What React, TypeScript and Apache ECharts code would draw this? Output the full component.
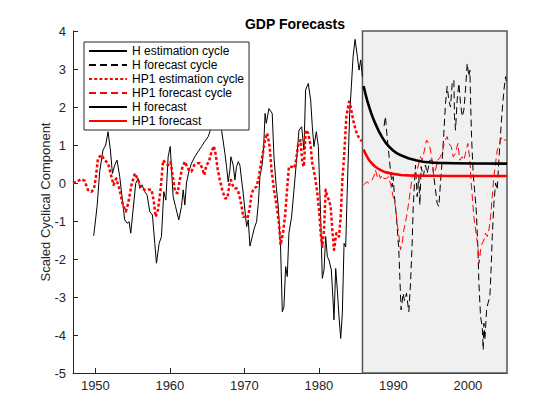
import React, { useEffect, useRef } from "react";
import * as echarts from "echarts";

// ---- Data (year, scaled cyclical component) ----
const xTickYears = [1950, 1960, 1970, 1980, 1990, 2000];
const forecastStart = 1985.85;
const forecastEnd = 2005.25;

const hEstimationCycle: [number, number][] = [
  [1949.78, -1.39], [1950.23, -0.62], [1950.58, 0.3], [1951.03, 0.87], [1951.39, 1.0], [1951.7, 1.35],
  [1952.02, 0.87], [1952.29, 0.25], [1952.6, 0.47], [1952.91, 0.6], [1953.27, 0.17], [1953.63, -0.45],
  [1953.94, -0.97], [1954.26, -1.06], [1954.53, -1.02], [1954.75, -1.32], [1955.06, -0.71], [1955.42, -0.01],
  [1955.74, 0.12], [1955.96, -0.14], [1956.27, -0.05], [1956.63, -0.23], [1956.95, -0.32], [1957.3, -0.75],
  [1957.66, -0.84], [1957.98, -1.59], [1958.2, -2.11], [1958.56, -1.59], [1958.87, -1.41], [1959.19, -0.23],
  [1959.46, -0.45], [1959.77, 0.69], [1960.05, 0.96], [1960.44, -0.36], [1960.76, -0.62], [1961.2, -0.97],
  [1961.56, -0.62], [1961.79, -0.18], [1962.01, -0.58], [1962.23, 0.0], [1962.55, 0.3], [1962.9, 0.52],
  [1963.35, 0.69], [1963.8, 0.83], [1964.25, 0.96], [1964.7, 1.1], [1965.15, 1.22], [1965.37, 1.35],
  [1965.8, 1.9], [1966.3, 2.0], [1966.6, 1.7], [1966.94, 1.39], [1967.39, 0.78], [1967.61, 0.43],
  [1967.83, 0.03], [1968.06, 0.34], [1968.19, 0.69], [1968.5, 0.47], [1968.73, 0.08], [1968.95, 0.43],
  [1969.18, 0.56], [1969.4, 0.47], [1969.63, 0.08], [1969.85, -0.27], [1970.07, -0.71], [1970.3, -1.15],
  [1970.52, -0.97], [1970.75, -1.66], [1971.06, -1.41], [1971.33, -1.19], [1971.64, -1.02], [1971.87, -0.54],
  [1972.09, 0.17], [1972.4, 0.5], [1972.6, 1.0], [1972.78, 1.83], [1972.94, 1.57], [1973.3, 1.96],
  [1973.74, 1.83], [1973.97, 0.69], [1974.28, -0.1], [1974.55, -0.62], [1974.86, -1.68], [1975.09, -3.39],
  [1975.31, -3.26], [1975.54, -2.2], [1975.76, -2.46], [1975.98, -1.32], [1976.34, -0.89], [1976.66, -0.18],
  [1976.97, 0.52], [1977.33, 1.39], [1977.69, 1.48], [1978.0, 0.87], [1978.22, 2.45], [1978.58, 2.62],
  [1978.9, 2.18], [1979.12, 1.48], [1979.34, 0.96], [1979.66, 1.35], [1979.93, 0.96], [1980.24, -0.89],
  [1980.46, -2.51], [1980.69, -2.29], [1980.91, -1.41], [1981.14, -1.94], [1981.36, -2.03], [1981.67, -2.29],
  [1981.9, -3.08], [1982.03, -3.6], [1982.26, -2.25], [1982.48, -2.82], [1982.7, -3.52], [1982.93, -4.09],
  [1983.15, -3.43], [1983.38, -1.59], [1983.6, -1.68], [1983.82, -0.1], [1984.14, 1.83], [1984.41, 2.71],
  [1984.59, 3.32], [1984.86, 3.78], [1985.17, 3.32], [1985.39, 2.97], [1985.62, 3.24], [1985.84, 2.8],
];

const hForecastCycle: [number, number][] = [
  [1988.75, 1.5], [1988.93, 1.75], [1989.16, 1.22], [1989.38, 0.78], [1989.61, 0.34], [1989.83, -0.1],
  [1989.97, 0.17], [1990.15, -0.36], [1990.41, -0.89], [1990.73, -1.76], [1990.86, -2.46], [1991.04, -3.34],
  [1991.31, -2.9], [1991.49, -3.1], [1991.76, -2.9], [1992.07, -3.39], [1992.3, -2.64], [1992.52, -1.59],
  [1992.65, -0.71], [1992.83, 0.0], [1992.97, 0.47], [1993.19, -0.36], [1993.42, 0.17], [1993.55, -0.58],
  [1993.73, 0.43], [1994.0, 0.17], [1994.31, 0.47], [1994.54, 0.25], [1994.89, 0.6], [1995.2, 0.6],
  [1995.43, 0.17], [1995.65, -0.18], [1995.88, -0.54], [1996.1, -0.62], [1996.32, 0.0], [1996.55, 0.6],
  [1996.77, 1.31], [1997.0, 2.1], [1997.22, 2.54], [1997.44, 2.18], [1997.67, 2.0], [1997.89, 2.62],
  [1998.12, 2.71], [1998.2, 1.75], [1998.34, 1.39], [1998.56, 2.18], [1998.79, 2.62], [1999.01, 2.1],
  [1999.24, 1.75], [1999.46, 1.92], [1999.68, 2.45], [1999.91, 3.15], [2000.13, 2.8], [2000.27, 2.97],
  [2000.36, 2.18], [2000.49, 1.22], [2000.71, 0.25], [2000.89, -0.18], [2001.12, -0.71], [2001.34, -1.68],
  [2001.48, -2.64], [2001.7, -3.52], [2001.92, -3.78], [2002.06, -4.39], [2002.15, -3.69], [2002.28, -4.13],
  [2002.51, -3.34], [2002.69, -3.17], [2002.95, -2.99], [2003.13, -2.2], [2003.27, -1.41], [2003.49, -0.54],
  [2003.72, 0.0], [2003.94, -0.18], [2004.16, 0.6], [2004.39, 1.31], [2004.61, 1.92], [2004.84, 2.45],
  [2005.06, 2.8], [2005.2, 2.62],
];

const hp1EstimationCycle: [number, number][] = [
  [1947.0, 0.0], [1947.45, 0.03], [1948.1, 0.1], [1948.55, 0.06], [1949.0, -0.18], [1949.45, -0.23],
  [1949.8, -0.17], [1950.05, 0.12], [1950.35, 0.65], [1950.8, 0.74], [1951.25, 0.6], [1951.7, 0.52],
  [1952.15, 0.17], [1952.45, -0.05], [1952.8, 0.12], [1953.25, -0.18], [1953.7, -0.58], [1954.1, -0.75],
  [1954.4, -0.54], [1954.85, -0.05], [1955.3, 0.25], [1955.75, 0.08], [1956.2, -0.14], [1956.65, -0.18],
  [1957.1, -0.17], [1957.55, -0.18], [1957.85, -0.49], [1958.1, -0.89], [1958.4, -0.71], [1958.75, -0.18],
  [1959.1, 0.6], [1959.45, 0.52], [1959.75, 0.47], [1960.1, 0.55], [1960.45, 0.1], [1960.7, -0.23],
  [1961.02, -0.27], [1961.34, 0.08], [1961.65, 0.39], [1962.0, 0.56], [1962.23, 0.47], [1962.55, 0.34],
  [1962.9, 0.3], [1963.26, 0.47], [1963.71, 0.52], [1964.03, 0.52], [1964.34, 0.39], [1964.61, 0.21],
  [1964.92, 0.47], [1965.24, 0.56], [1965.59, 0.82], [1965.91, 0.97], [1966.13, 0.78], [1966.4, 0.39],
  [1966.71, 0.08], [1967.03, -0.18], [1967.39, -0.4], [1967.74, -0.4], [1967.97, -0.05], [1968.19, 0.08],
  [1968.5, -0.1], [1968.73, -0.14], [1968.95, -0.14], [1969.18, -0.23], [1969.4, -0.4], [1969.63, -0.62],
  [1969.85, -0.89], [1970.16, -0.89], [1970.43, -0.93], [1970.75, -0.62], [1970.97, -0.27], [1971.33, -0.14],
  [1971.64, -0.1], [1971.96, 0.17], [1972.23, 0.52], [1972.5, 0.8], [1972.76, 1.13], [1973.07, 1.31],
  [1973.39, 0.96], [1973.65, 0.34], [1973.97, -0.18], [1974.28, -0.54], [1974.64, -1.06], [1974.86, -1.63],
  [1975.18, -1.32], [1975.45, -0.89], [1975.76, -0.1], [1975.98, 0.43], [1976.34, 0.43], [1976.66, 0.39],
  [1976.88, 0.52], [1977.24, 1.04], [1977.55, 1.13], [1977.78, 0.52], [1978.0, 0.43], [1978.22, 1.39],
  [1978.58, 1.31], [1978.9, 0.96], [1979.12, 0.52], [1979.48, 0.17], [1979.79, -0.27], [1980.02, -0.71],
  [1980.24, -1.32], [1980.46, -1.68], [1980.69, -1.24], [1980.91, -0.18], [1981.14, -0.36], [1981.36, -0.45],
  [1981.58, -0.62], [1981.81, -1.24], [1982.03, -1.76], [1982.35, -1.32], [1982.7, -1.41], [1982.93, -0.89],
  [1983.15, 0.08], [1983.38, 0.69], [1983.69, 1.75], [1984.05, 2.14], [1984.27, 2.01], [1984.59, 1.66],
  [1984.94, 1.39], [1985.3, 1.22], [1985.62, 1.13], [1985.75, 1.1],
];

const hp1ForecastCycle: [number, number][] = [
  [1986.0, -0.05], [1986.45, 0.03], [1986.7, 0.0], [1987.0, 0.03], [1987.37, 0.17], [1987.6, 0.34],
  [1987.82, 0.17], [1988.04, 0.25], [1988.26, 0.12], [1988.49, 0.21], [1988.71, 0.12], [1989.07, 0.12],
  [1989.38, 0.17], [1989.7, -0.1], [1989.97, -0.36], [1990.28, -0.62], [1990.5, -1.06], [1990.73, -1.37],
  [1990.95, -1.76], [1991.18, -1.59], [1991.4, -1.24], [1991.76, -0.89], [1991.98, -0.62], [1992.3, -0.18],
  [1992.52, 0.17], [1992.83, 0.25], [1993.19, 0.34], [1993.64, 0.69], [1993.86, 0.6], [1994.18, 0.87],
  [1994.45, 1.13], [1994.76, 1.04], [1994.98, 0.87], [1995.2, 0.6], [1995.4, 0.21], [1995.65, 0.34],
  [1995.97, 0.6], [1996.32, 0.69], [1996.64, 0.87], [1996.86, 1.09], [1997.22, 1.22], [1997.44, 1.04],
  [1997.76, 0.96], [1998.03, 0.69], [1998.34, 0.78], [1998.65, 1.04], [1998.92, 0.6], [1999.24, 0.69],
  [1999.46, 0.6], [1999.68, 0.78], [2000.0, 1.04], [2000.27, 0.6], [2000.45, 0.0], [2000.8, -0.89],
  [2001.16, -1.41], [2001.34, -1.68], [2001.52, -2.11], [2001.7, -1.76], [2001.92, -1.59], [2002.15, -1.5],
  [2002.37, -1.32], [2002.6, -1.41], [2002.82, -1.24], [2003.05, -0.89], [2003.27, -0.36], [2003.49, 0.17],
  [2003.72, 0.52], [2003.94, 0.87], [2004.16, 0.96], [2004.39, 1.13], [2004.61, 1.22], [2004.92, 1.13],
  [2005.2, 1.13],
];

const hForecast: [number, number][] = [
  [1986.0, 2.55], [1986.25, 2.35], [1986.5, 2.16], [1986.75, 2.0], [1987.0, 1.85], [1987.25, 1.72],
  [1987.5, 1.6], [1987.75, 1.49], [1988.0, 1.38], [1988.5, 1.2], [1989.0, 1.05], [1989.5, 0.94],
  [1990.0, 0.85], [1990.5, 0.78], [1991.0, 0.73], [1991.5, 0.69], [1992.0, 0.65], [1993.0, 0.6],
  [1994.0, 0.56], [1995.0, 0.54], [1996.0, 0.53], [1998.0, 0.52], [2001.0, 0.515], [2005.25, 0.51],
];

const hp1Forecast: [number, number][] = [
  [1986.0, 0.88], [1986.25, 0.77], [1986.5, 0.68], [1986.75, 0.6], [1987.0, 0.54], [1987.5, 0.44],
  [1988.0, 0.37], [1988.5, 0.32], [1989.0, 0.28], [1990.0, 0.24], [1991.0, 0.21], [1992.0, 0.2],
  [1994.0, 0.19], [1998.0, 0.185], [2005.25, 0.185],
];

const seriesNames = [
  "H estimation cycle",
  "H forecast cycle",
  "HP1 estimation cycle",
  "HP1 forecast cycle",
  "H forecast",
  "HP1 forecast",
];

const FONT = "'Liberation Sans', Arial, Helvetica, sans-serif";
const AXIS_COLOR = "#262626";

export default function App() {
  const ref = useRef<HTMLDivElement>(null);

  useEffect(() => {
    document.body.style.margin = "0";
    if (!ref.current) return;
    const chart = echarts.init(ref.current, undefined, { renderer: "svg" });

    const lineSeries = (
      name: string,
      data: [number, number][],
      color: string,
      width: number,
      type: any
    ) => ({
      name,
      type: "line",
      data,
      symbol: "none",
      showSymbol: false,
      silent: true,
      z: 3,
      lineStyle: { color, width, type, cap: "butt", join: "round" },
      itemStyle: { color },
    });

    chart.setOption({
      animation: false,
      textStyle: { fontFamily: FONT },
      title: {
        text: "GDP Forecasts",
        left: 290,
        top: 12,
        textAlign: "center",
        textStyle: { fontFamily: FONT, fontSize: 14, fontWeight: "bold", color: "#000" },
      },
      legend: {
        data: seriesNames,
        orient: "vertical",
        left: 84,
        top: 42,
        padding: [3, 5, 3, 4],
        itemGap: 2,
        itemWidth: 38,
        itemHeight: 12,
        backgroundColor: "#fff",
        borderColor: AXIS_COLOR,
        borderWidth: 1,
        borderRadius: 0,
        selectedMode: false,
        z: 10,
        itemStyle: { opacity: 0 },
        textStyle: { fontFamily: FONT, fontSize: 12, color: "#000", padding: [0, 0, 0, 0] },
      },
      grid: { left: 73, right: 53, top: 31, bottom: 47 },
      xAxis: {
        type: "value",
        min: 1947,
        max: forecastEnd,
        axisLine: { show: true, onZero: false, lineStyle: { color: AXIS_COLOR, width: 1 } },
        axisTick: { show: true, inside: true, length: 5, customValues: xTickYears, lineStyle: { color: AXIS_COLOR } },
        axisLabel: {
          customValues: xTickYears,
          formatter: (v: number) => String(v),
          color: AXIS_COLOR,
          fontSize: 13,
          fontFamily: FONT,
          margin: 6,
        },
        splitLine: { show: false },
      },
      yAxis: {
        type: "value",
        min: -5,
        max: 4,
        interval: 1,
        name: "Scaled Cyclical Component",
        nameLocation: "middle",
        nameGap: 21,
        nameMoveOverlap: false,
        nameTextStyle: { fontFamily: FONT, fontSize: 13, color: AXIS_COLOR },
        axisLine: { show: true, onZero: false, lineStyle: { color: AXIS_COLOR, width: 1 } },
        axisTick: { show: true, inside: true, length: 5, lineStyle: { color: AXIS_COLOR } },
        axisLabel: { color: AXIS_COLOR, fontSize: 13, fontFamily: FONT, margin: 7 },
        splitLine: { show: false },
      },
      series: [
        {
          name: "shade",
          type: "line",
          data: [],
          silent: true,
          z: 1,
          markArea: {
            silent: true,
            itemStyle: { color: "#f0f0f0", borderColor: "#555555", borderWidth: 1.5 },
            data: [[{ xAxis: forecastStart, yAxis: 4 }, { xAxis: forecastEnd, yAxis: -5 }]],
          },
        },
        lineSeries(seriesNames[0], hEstimationCycle, "#000", 1, "solid"),
        lineSeries(seriesNames[1], hForecastCycle, "#000", 1, [7, 4]),
        lineSeries(seriesNames[2], hp1EstimationCycle, "#ff0000", 2.5, [3, 2.2]),
        lineSeries(seriesNames[3], hp1ForecastCycle, "#ff0000", 1, [7, 4]),
        lineSeries(seriesNames[4], hForecast, "#000", 2.6, "solid"),
        lineSeries(seriesNames[5], hp1Forecast, "#ff0000", 2.6, "solid"),
      ],
    });

    return () => chart.dispose();
  }, []);

  return <div ref={ref} style={{ width: 560, height: 420 }} />;
}
